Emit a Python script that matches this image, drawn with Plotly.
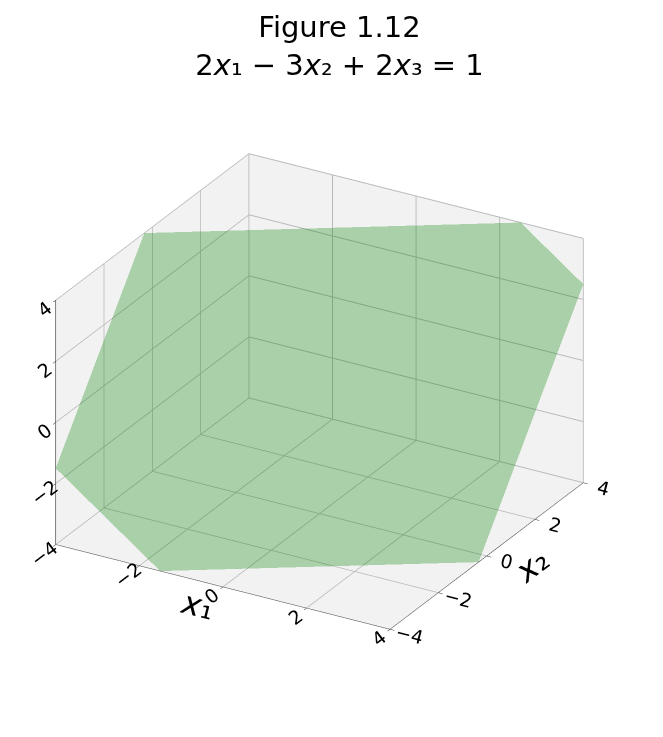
import numpy as np
import plotly.graph_objects as go

# plane: a*x1 + b*x2 + c*x3 = d
coef_a, coef_b, coef_c, coef_d = 2, -3, 2, 1
x1_range = [-4, 4]
x2_range = [-4, 4]
x3_range = [-4, 4]
tick_vals = [-4, -2, 0, 2, 4]
tick_text = ["\u22124", "\u22122", "0", "2", "4"]

def x3_of(x1, x2):
    return (coef_d - coef_a * x1 - coef_b * x2) / coef_c

# clip the square domain to where x3 lies in range (Sutherland-Hodgman)
poly = [(x1_range[0], x2_range[0]), (x1_range[1], x2_range[0]),
        (x1_range[1], x2_range[1]), (x1_range[0], x2_range[1])]

def clip(poly, f):
    out = []
    n = len(poly)
    for i in range(n):
        p, q = poly[i], poly[(i + 1) % n]
        fp, fq = f(p), f(q)
        if fp >= 0:
            out.append(p)
        if (fp >= 0) != (fq >= 0):
            t = fp / (fp - fq)
            out.append((p[0] + t * (q[0] - p[0]), p[1] + t * (q[1] - p[1])))
    return out

poly = clip(poly, lambda p: x3_range[1] - x3_of(*p))
poly = clip(poly, lambda p: x3_of(*p) - x3_range[0])
px = [p[0] for p in poly]
py = [p[1] for p in poly]
pz = [x3_of(*p) for p in poly]
n = len(poly)
ii = [0] * (n - 2)
jj = list(range(1, n - 1))
kk = list(range(2, n))

fig = go.Figure(go.Mesh3d(x=px, y=py, z=pz, i=ii, j=jj, k=kk,
                          color="green", opacity=0.3, flatshading=True,
                          lighting=dict(ambient=1, diffuse=0, specular=0, fresnel=0),
                          hoverinfo="skip", showscale=False))

axis_common = dict(tickvals=tick_vals, ticktext=tick_text,
                   showbackground=True, backgroundcolor="rgb(242,242,242)",
                   gridcolor="rgb(185,185,185)", showline=True, linecolor="black",
                   zeroline=False, ticks="outside", tickcolor="black",
                   tickfont=dict(size=15, color="black"))

fig.update_layout(
    width=663, height=737,
    paper_bgcolor="white",
    font=dict(family="DejaVu Sans", color="black"),
    title=dict(text="Figure 1.12<br>2<i>x</i>\u2081 \u2212 3<i>x</i>\u2082 + 2<i>x</i>\u2083 = 1",
               x=0.5, xanchor="center", y=0.96, yanchor="top", font=dict(size=29)),
    margin=dict(l=0, r=0, t=0, b=0),
    scene=dict(
        domain=dict(x=[0.0, 0.94], y=[0.03, 0.93]),
        xaxis=dict(range=x1_range, title=dict(text="<i>x</i>\u2081", font=dict(size=32)), **axis_common),
        yaxis=dict(range=x2_range, title=dict(text="<i>x</i>\u2082", font=dict(size=32)), **axis_common),
        zaxis=dict(range=x3_range, title=dict(text=""), **axis_common),
        aspectmode="manual",
        aspectratio=dict(x=1.165, y=1.165, z=0.82),
        camera=dict(eye=dict(x=1.0, y=-1.73, z=0.975),
                    center=dict(x=0, y=0, z=0),
                    projection=dict(type="orthographic")),
    ),
)

fig.write_html("out.html")
